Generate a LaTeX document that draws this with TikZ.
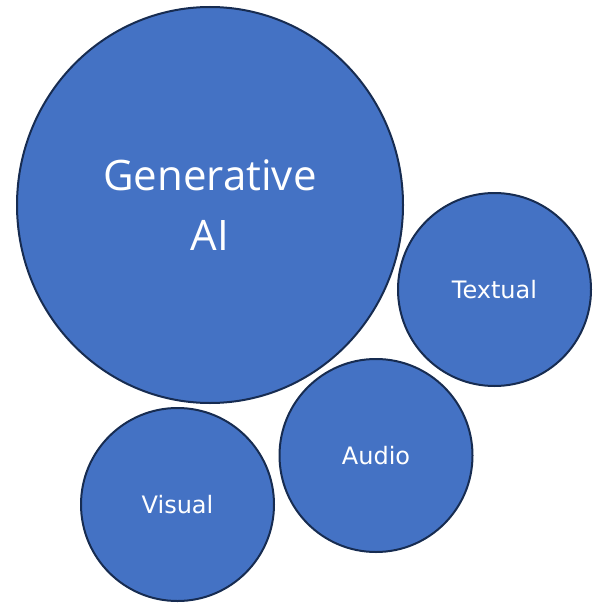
\documentclass[tikz,border=0pt]{standalone}
\usepackage{fontspec}
\setmainfont{DejaVu Sans}
\newfontfamily\bigfont{Open Sans}
\usepackage{xcolor}
\usetikzlibrary{shapes.geometric}
\definecolor{genblue}{HTML}{4472C4}
\definecolor{genedge}{HTML}{172C51}

\begin{document}
\begin{tikzpicture}[x=1pt,y=-1pt]
		\tikzset{bubble/.style={circle,draw=genedge,fill=genblue,line width=2pt,minimum size=193pt,inner sep=0pt,text=white,font=\fontsize{24}{28}\selectfont}};
		\useasboundingbox (0,0) rectangle (593,604);
		\node[ellipse,draw=genedge,fill=genblue,line width=2pt,minimum width=386pt,minimum height=396pt,text=white,align=center,font=\bigfont\fontsize{42}{60}\selectfont] (genai) at (210,205) {Generative\\AI};
		\node[bubble] (textual) at (494.5,289.5) {Textual};
		\node[bubble] (audio) at (376,455.5) {Audio};
		\node[bubble] (visual) at (177.5,504.5) {Visual};
	\end{tikzpicture}
\end{document}
